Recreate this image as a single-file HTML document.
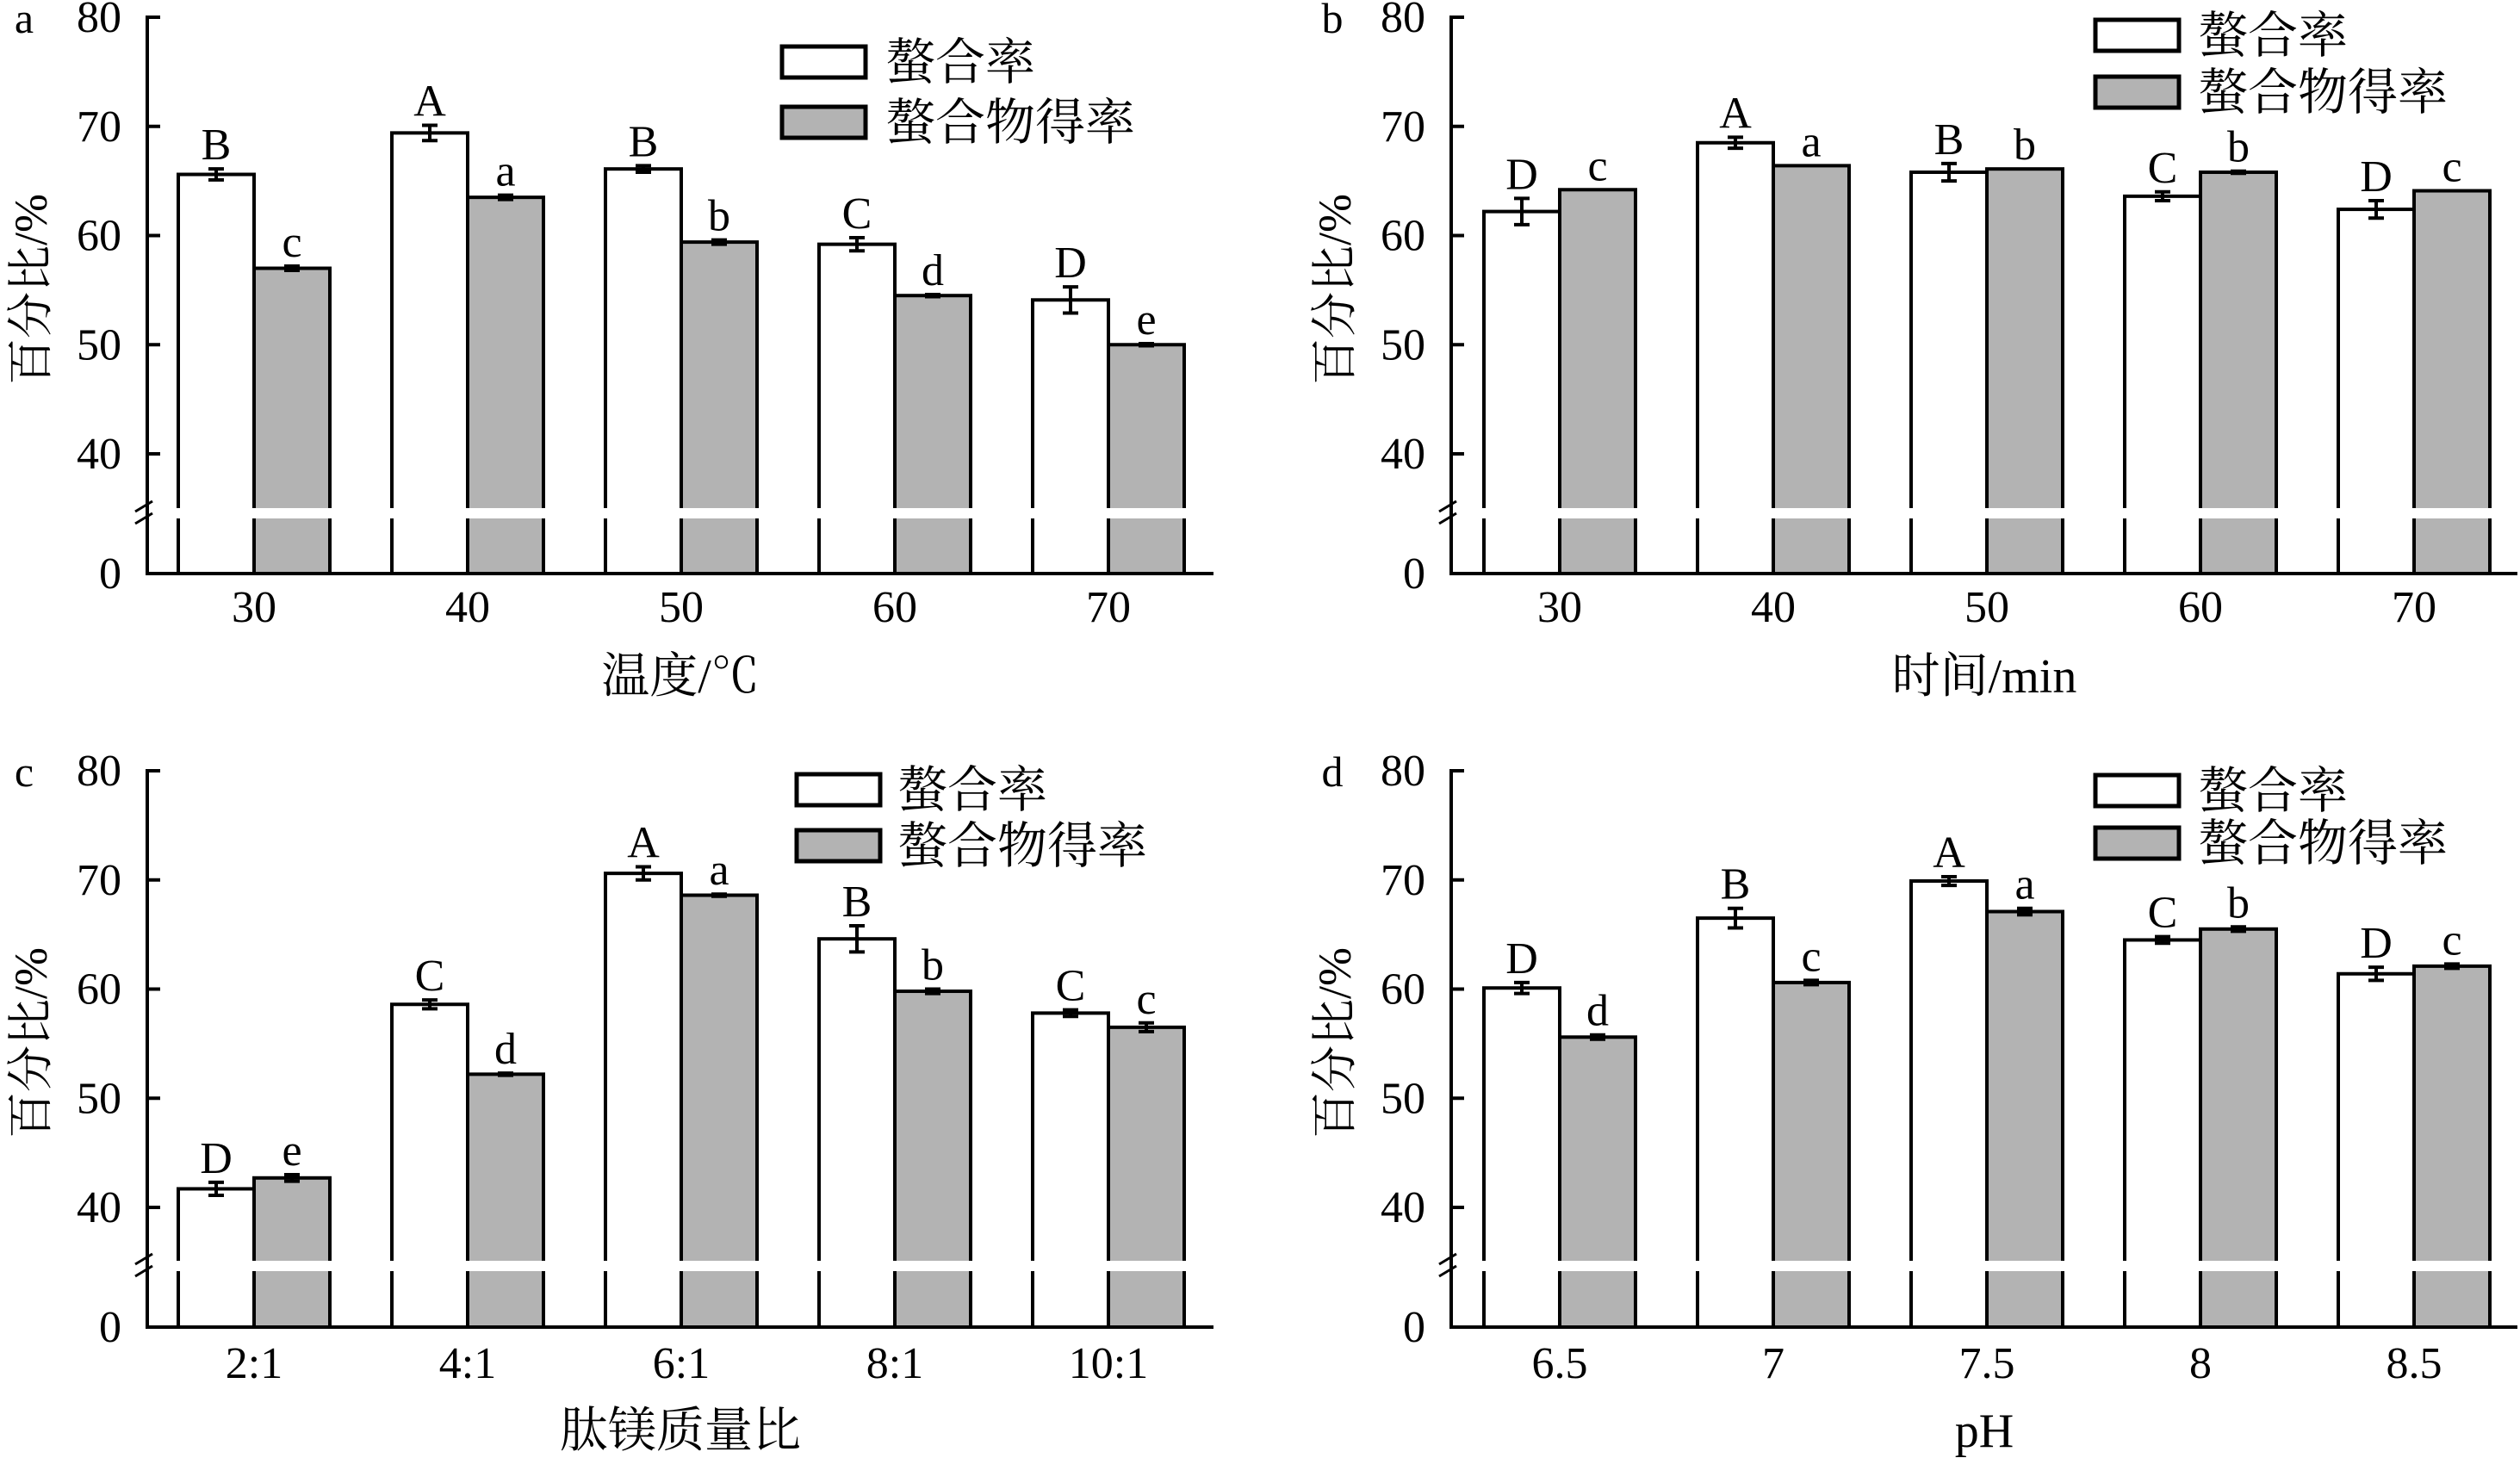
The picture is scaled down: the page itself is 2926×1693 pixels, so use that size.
<!DOCTYPE html>
<html><head><meta charset="utf-8">
<style>
html,body{margin:0;padding:0;background:#fff;}
svg{display:block;}
text{font-family:"Liberation Serif","Noto Serif CJK SC","Noto Sans CJK SC",serif;fill:#000;}
</style></head>
<body>
<svg id="s" width="2926" height="1693" viewBox="0 0 2926 1693" xmlns="http://www.w3.org/2000/svg"></svg>
<script>
const NS="http://www.w3.org/2000/svg";
const s=document.getElementById('s');
function el(t,a,txt){const e=document.createElementNS(NS,t);for(const k in a)e.setAttribute(k,a[k]);if(txt!==undefined)e.textContent=txt;s.appendChild(e);return e;}
const panels=[
 {ax:171,y80:20,base:666,band:[590,602],xr:1409,c0:295,L:'a',lx:28,ly:38,xlabY:722,title:'温度/℃',titleY:804,ylx:36,yly:336,
  cats:['30','40','50','60','70'],
  w:[[65.6,.5,'B'],[69.4,.7,'A'],[66.1,.3,'B'],[59.2,.6,'C'],[54.1,1.2,'D']],
  g:[[57.0,.2,'c'],[63.5,.2,'a'],[59.4,.2,'b'],[54.5,.1,'d'],[50.0,.1,'e']],
  leg:{x:908,y1:54,y2:124,tx:1028}},
 {ax:1685,y80:20,base:666,band:[590,602],xr:2923,c0:1811,L:'b',lx:1547,ly:38,xlabY:722,title:'时间/min',titleY:804,ylx:1550,yly:336,
  cats:['30','40','50','60','70'],
  w:[[62.2,1.2,'D'],[68.5,.5,'A'],[65.8,.8,'B'],[63.6,.4,'C'],[62.4,.8,'D']],
  g:[[64.2,0,'c'],[66.4,0,'a'],[66.1,0,'b'],[65.8,.1,'b'],[64.1,0,'c']],
  leg:{x:2433,y1:23,y2:89,tx:2552}},
 {ax:171,y80:895,base:1541,band:[1464,1476],xr:1409,c0:295,L:'c',lx:28,ly:913,xlabY:1600,title:'肽镁质量比',titleY:1680,ylx:36,yly:1211,
  cats:['2:1','4:1','6:1','8:1','10:1'],
  w:[[41.7,.6,'D'],[58.6,.4,'C'],[70.6,.6,'A'],[64.6,1.2,'B'],[57.8,.3,'C']],
  g:[[42.7,.3,'e'],[52.2,.1,'d'],[68.6,.1,'a'],[59.8,.2,'b'],[56.5,.4,'c']],
  leg:{x:925,y1:899,y2:964,tx:1042}},
 {ax:1685,y80:895,base:1541,band:[1464,1476],xr:2923,c0:1811,L:'d',lx:1547,ly:913,xlabY:1600,title:'pH',titleY:1680,ylx:1550,yly:1211,
  cats:['6.5','7','7.5','8','8.5'],
  w:[[60.1,.5,'D'],[66.5,.9,'B'],[69.9,.4,'A'],[64.5,.3,'C'],[61.4,.6,'D']],
  g:[[55.6,.2,'d'],[60.6,.2,'c'],[67.1,.3,'a'],[65.5,.2,'b'],[62.1,.2,'c']],
  leg:{x:2433,y1:900,y2:961,tx:2552}}
];
const K=12.675, BW=88, STEP=248, GRAY='#b3b3b3';
for(const p of panels){
  const yOf=v=>p.y80+(80-v)*K;
  const drawBar=(x,v,e,lab,fill)=>{
    const yt=yOf(v);
    el('rect',{x:x,y:yt,width:BW,height:p.base-yt,fill:fill,stroke:'#000','stroke-width':4});
    const cx=x+BW/2;
    let top=yt;
    if(e>0.05){
      const a=yOf(v+e),b=yOf(v-e);top=a;
      el('line',{x1:cx,y1:a,x2:cx,y2:b,stroke:'#000','stroke-width':4});
      el('line',{x1:cx-9,y1:a,x2:cx+9,y2:a,stroke:'#000','stroke-width':4});
      el('line',{x1:cx-9,y1:b,x2:cx+9,y2:b,stroke:'#000','stroke-width':4});
    }
    el('text',{x:cx,y:top-11,'font-size':52,'text-anchor':'middle'},lab);
  };
  for(let i=0;i<5;i++){
    const c=p.c0+i*STEP;
    drawBar(c-BW,p.w[i][0],p.w[i][1],p.w[i][2],'#fff');
    drawBar(c,p.g[i][0],p.g[i][1],p.g[i][2],GRAY);
    el('text',{x:c,y:p.xlabY,'font-size':52,'text-anchor':'middle'},p.cats[i]);
  }
  el('rect',{x:p.ax+3,y:p.band[0],width:p.xr-p.ax,height:p.band[1]-p.band[0],fill:'#fff'});
  el('line',{x1:p.ax,y1:p.y80-2,x2:p.ax,y2:p.base+2,stroke:'#000','stroke-width':4});
  el('line',{x1:p.ax-2,y1:p.base,x2:p.xr,y2:p.base,stroke:'#000','stroke-width':4});
  el('line',{x1:p.ax-14,y1:p.band[0]+4,x2:p.ax+6,y2:p.band[0]-8,stroke:'#000','stroke-width':3});
  el('line',{x1:p.ax-14,y1:p.band[1]+6,x2:p.ax+6,y2:p.band[1]-6,stroke:'#000','stroke-width':3});
  for(const v of [80,70,60,50,40]){
    const y=yOf(v);
    el('line',{x1:p.ax,y1:y,x2:p.ax+15,y2:y,stroke:'#000','stroke-width':4});
    el('text',{x:p.ax-30,y:y+17,'font-size':52,'text-anchor':'end'},String(v));
  }
  el('text',{x:p.ax-30,y:p.base+17,'font-size':52,'text-anchor':'end'},'0');
  el('text',{x:p.lx,y:p.ly,'font-size':50,'text-anchor':'middle'},p.L);
  el('text',{x:(p.ax+p.xr)/2,y:p.titleY,'font-size':56,'text-anchor':'middle'},p.title);
  el('text',{x:0,y:0,'font-size':54,'text-anchor':'middle',transform:`translate(${p.ylx+18},${p.yly}) rotate(-90)`},'百分比/%');
  el('rect',{x:p.leg.x,y:p.leg.y1,width:97,height:36,fill:'#fff',stroke:'#000','stroke-width':5});
  el('rect',{x:p.leg.x,y:p.leg.y2,width:97,height:36,fill:GRAY,stroke:'#000','stroke-width':5});
  el('text',{x:p.leg.tx,y:p.leg.y1+38,'font-size':58},'螯合率');
  el('text',{x:p.leg.tx,y:p.leg.y2+38,'font-size':58},'螯合物得率');
}
</script>
</body></html>
